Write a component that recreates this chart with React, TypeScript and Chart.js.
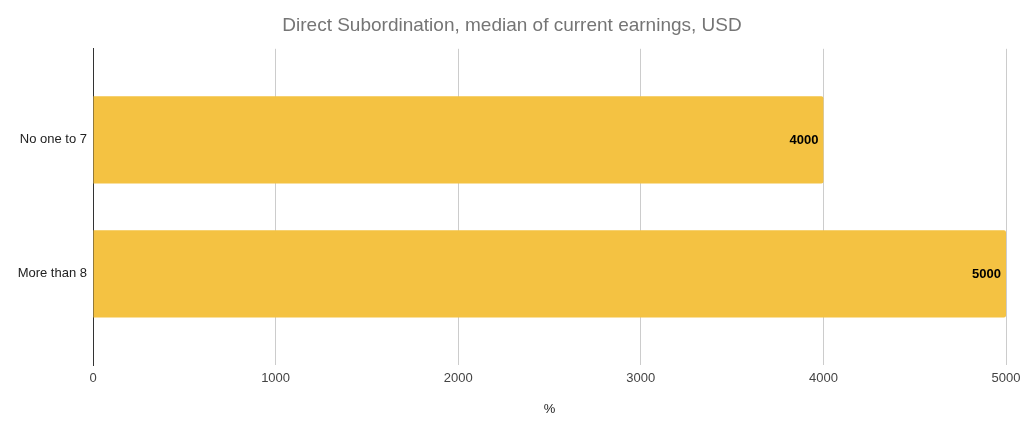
import { useEffect, useRef } from "react"
import { Chart, registerables } from "chart.js"

Chart.register(...registerables)

const title = "Direct Subordination, median of current earnings, USD"
const categories = ["No one to 7", "More than 8"]
const medians = [4000, 5000]
const xTicks = [0, 1000, 2000, 3000, 4000, 5000]
const xTitle = "%"

// draws the value at the inner end of each bar
const barLabels = {
  id: "barLabels",
  afterDatasetsDraw(chart: Chart) {
    const ctx = chart.ctx
    const meta = chart.getDatasetMeta(0)
    ctx.save()
    ctx.font = "bold 13px Arial, 'Liberation Sans', sans-serif"
    ctx.fillStyle = "#000"
    ctx.textAlign = "right"
    ctx.textBaseline = "middle"
    meta.data.forEach((bar: any, i: number) => {
      ctx.fillText(String(medians[i]), bar.x - 5, bar.y + 1)
    })
    ctx.restore()
  },
}

export default function App() {
  const chartRef = useRef<HTMLCanvasElement>(null)
  const chartInstance = useRef<Chart | null>(null)

  useEffect(() => {
    document.body.style.margin = "0"
    if (!chartRef.current) return
    if (chartInstance.current) chartInstance.current.destroy()

    const ctx = chartRef.current.getContext("2d")
    if (!ctx) return

    Chart.defaults.font.family = "Arial, 'Liberation Sans', sans-serif"

    chartInstance.current = new Chart(ctx, {
      type: "bar",
      data: {
        datasets: [
          {
            label: "Median",
            data: medians.map((v, i) => ({ x: v, y: i })),
            backgroundColor: "#F4C242",
            borderWidth: 0,
            borderRadius: 2,
            borderSkipped: "start",
            categoryPercentage: 1,
            barPercentage: 0.65,
          },
        ],
      },
      options: {
        animation: false,
        responsive: true,
        maintainAspectRatio: false,
        indexAxis: "y",
        layout: { padding: 0 },
        scales: {
          x: {
            type: "linear",
            min: 0,
            max: 5000,
            afterBuildTicks: (scale: any) => {
              scale.ticks = xTicks.map((v) => ({ value: v }))
            },
            afterFit: (scale: any) => {
              scale.height = 72
              scale.paddingRight = 18
              scale.paddingLeft = 0
            },
            grid: {
              drawTicks: false,
              color: (c: any) => (c.tick && c.tick.value === 0 ? "#333" : "#ccc"),
            },
            border: { display: false },
            ticks: {
              color: "#444",
              font: { size: 13 },
              padding: 6,
              callback: (v: any) => String(v),
            },
            title: {
              display: true,
              text: xTitle,
              color: "#222",
              font: { size: 13 },
              padding: { top: 20, bottom: 20 },
            },
          },
          y: {
            type: "linear",
            offset: false,
            reverse: true,
            min: -0.68,
            max: 1.68,
            afterBuildTicks: (scale: any) => {
              scale.ticks = categories.map((_, i) => ({ value: i }))
            },
            afterFit: (scale: any) => {
              scale.width = 93
            },
            grid: { display: false, drawTicks: false, offset: false },
            border: { display: true, color: "#333", width: 1 },
            ticks: {
              color: "#222",
              font: { size: 13 },
              padding: 6,
              callback: (v: any) => categories[v] ?? "",
            },
          },
        },
        plugins: {
          legend: { display: false },
          tooltip: { enabled: false },
          title: {
            display: true,
            text: title,
            color: "#757575",
            font: { size: 19, weight: "normal" },
            padding: { top: 14, bottom: 12 },
          },
        },
      },
      plugins: [barLabels],
    })

    return () => {
      if (chartInstance.current) {
        chartInstance.current.destroy()
        chartInstance.current = null
      }
    }
  }, [])

  return (
    <div style={{ width: 1024, height: 437, position: "relative" }}>
      <canvas ref={chartRef}></canvas>
    </div>
  )
}
